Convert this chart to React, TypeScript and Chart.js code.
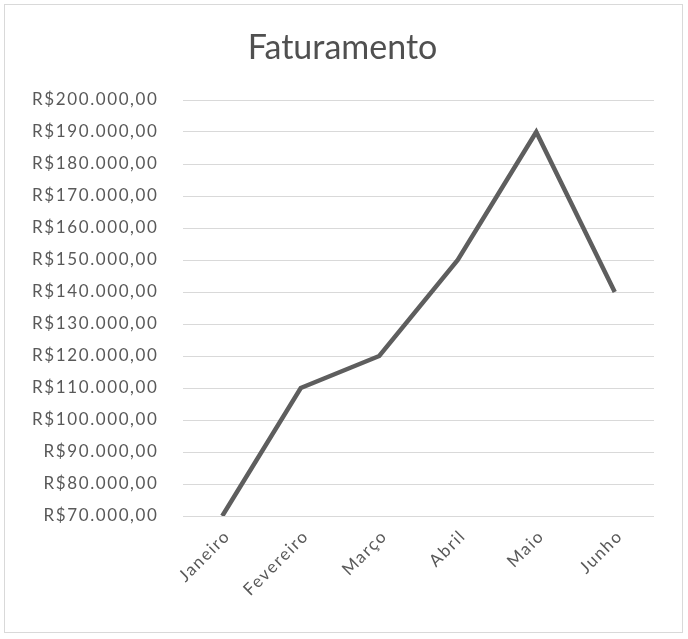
import { useEffect, useRef } from "react";
import { Chart, registerables } from "chart.js";

Chart.register(...registerables);

// chart data
const months = ["Janeiro", "Fevereiro", "Março", "Abril", "Maio", "Junho"];
const revenue = [70000, 110000, 120000, 150000, 190000, 140000];
const yMin = 70000;
const yMax = 200000;
const yStep = 10000;

const TEXT_COLOR = "#595959";
const GRID_COLOR = "#d9d9d9";
const FONT = "Lato, 'Open Sans', sans-serif";

// R$200.000,00 style
function formatBRL(value: number): string {
  const intPart = Math.round(value)
    .toString()
    .replace(/\B(?=(\d{3})+(?!\d))/g, ".");
  return "R$" + intPart + ",00";
}

// the Excel tick text is drawn a bit letter-spaced; ticks are drawn after the dataset (z: 1)
const tickSpacing = {
  id: "tickSpacing",
  afterDatasetsDraw(chart: any) {
    chart.ctx.letterSpacing = "1.6px";
  },
  afterDraw(chart: any) {
    chart.ctx.letterSpacing = "0px";
  },
};

export default function App() {
  const canvasRef = useRef<HTMLCanvasElement>(null);
  const chartRef = useRef<Chart | null>(null);

  useEffect(() => {
    if (!canvasRef.current) return;
    if (chartRef.current) chartRef.current.destroy();

    chartRef.current = new Chart(canvasRef.current, {
      type: "line",
      data: {
        labels: months,
        datasets: [
          {
            label: "Faturamento",
            data: revenue,
            borderColor: "#5e5e5e",
            borderWidth: 4.5,
            borderJoinStyle: "miter",
            borderCapStyle: "butt",
            tension: 0,
            pointRadius: 0,
            fill: false,
          },
        ],
      },
      options: {
        responsive: true,
        maintainAspectRatio: false,
        animation: false,
        layout: {
          padding: { left: 31, right: 34, top: 0, bottom: 0 },
        },
        plugins: {
          legend: { display: false },
          tooltip: { enabled: false },
          title: {
            display: true,
            text: "Faturamento",
            color: "#505050",
            font: { family: FONT, size: 34, weight: "normal", lineHeight: 1.2 },
            padding: { top: 28, bottom: 31.2 },
          },
        },
        scales: {
          x: {
            offset: true,
            grid: { display: false },
            border: { display: false },
            ticks: {
              z: 1,
              color: TEXT_COLOR,
              font: { family: FONT, size: 17 },
              minRotation: 45,
              maxRotation: 45,
              padding: 2,
              labelOffset: 5,
              autoSkip: false,
            },
            afterFit(scale: any) {
              scale.height = 123;
            },
          },
          y: {
            min: yMin,
            max: yMax,
            border: { display: false },
            grid: {
              color: GRID_COLOR,
              lineWidth: 1,
              drawTicks: false,
            },
            ticks: {
              z: 1,
              stepSize: yStep,
              color: TEXT_COLOR,
              font: { family: FONT, size: 17 },
              padding: 24.5,
              callback: (value: any) => formatBRL(Number(value)),
            },
            afterFit(scale: any) {
              scale.width = 152;
            },
          },
        },
      },
      plugins: [tickSpacing],
    });

    return () => {
      if (chartRef.current) {
        chartRef.current.destroy();
        chartRef.current = null;
      }
    };
  }, []);

  return (
    <div
      style={{
        position: "absolute",
        left: 0,
        top: 0,
        width: 688,
        height: 639,
        background: "#ffffff",
      }}
    >
      <div
        style={{
          position: "absolute",
          left: 4,
          top: 4,
          width: 679,
          height: 629,
          boxSizing: "border-box",
          border: "1px solid " + GRID_COLOR,
        }}
      />
      <div style={{ position: "absolute", left: 0, top: 0, width: 688, height: 639 }}>
        <canvas ref={canvasRef} />
      </div>
    </div>
  );
}
